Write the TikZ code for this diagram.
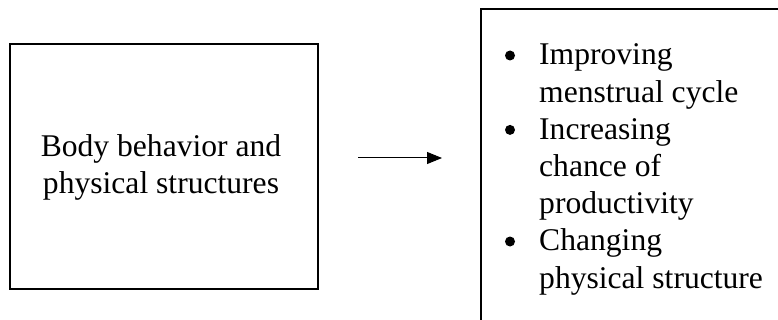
\documentclass[tikz,border=0pt]{standalone}
\usepackage{fontspec}
\setmainfont{Liberation Serif}
\usetikzlibrary{arrows.meta}
\begin{document}
\begin{tikzpicture}[x=1pt,y=-1pt,
  boxline/.style={line width=2pt},
  txt/.style={inner sep=0pt,anchor=base west,font=\fontsize{31.6}{37}\selectfont},
  ctxt/.style={inner sep=0pt,anchor=base,font=\fontsize{31.6}{37}\selectfont},
  bul/.style={circle,fill=black,inner sep=0pt,minimum size=10pt}]
\useasboundingbox (0,0) rectangle (778,320);
\fill[white] (0,0) rectangle (778,320);
% left box
\node[draw,boxline,minimum width=308pt,minimum height=245pt,inner sep=0pt] (L) at (164,166.5) {};
\node[ctxt] (l1) at (161,157) {Body behavior and};
\node[ctxt] (l2) at (161,194) {physical structures};
% right box (open on right and bottom)
\coordinate (rb) at (481,320);
\coordinate (rt) at (481,9);
\coordinate (rr) at (778,9);
\draw[boxline] (rb) -- (rt) -- (rr);
% arrow
\coordinate (a1) at (358,158);
\coordinate (a2) at (442,158);
\draw[line width=1pt,-{Triangle[length=15pt,width=12pt]}] (a1) -- (a2);
% bullets
\node[bul] (b1) at (510,55.5) {};
\node[bul] (b2) at (510,129.9) {};
\node[bul] (b3) at (510,241.5) {};
% list text
\node[txt] (t1) at (539,65) {Improving};
\node[txt] (t2) at (539,102.2) {menstrual cycle};
\node[txt] (t3) at (539,139.4) {Increasing};
\node[txt] (t4) at (539,176.6) {chance of};
\node[txt] (t5) at (539,213.8) {productivity};
\node[txt] (t6) at (539,251) {Changing};
\node[txt] (t7) at (539,288.2) {physical structure};
\end{tikzpicture}
\end{document}
